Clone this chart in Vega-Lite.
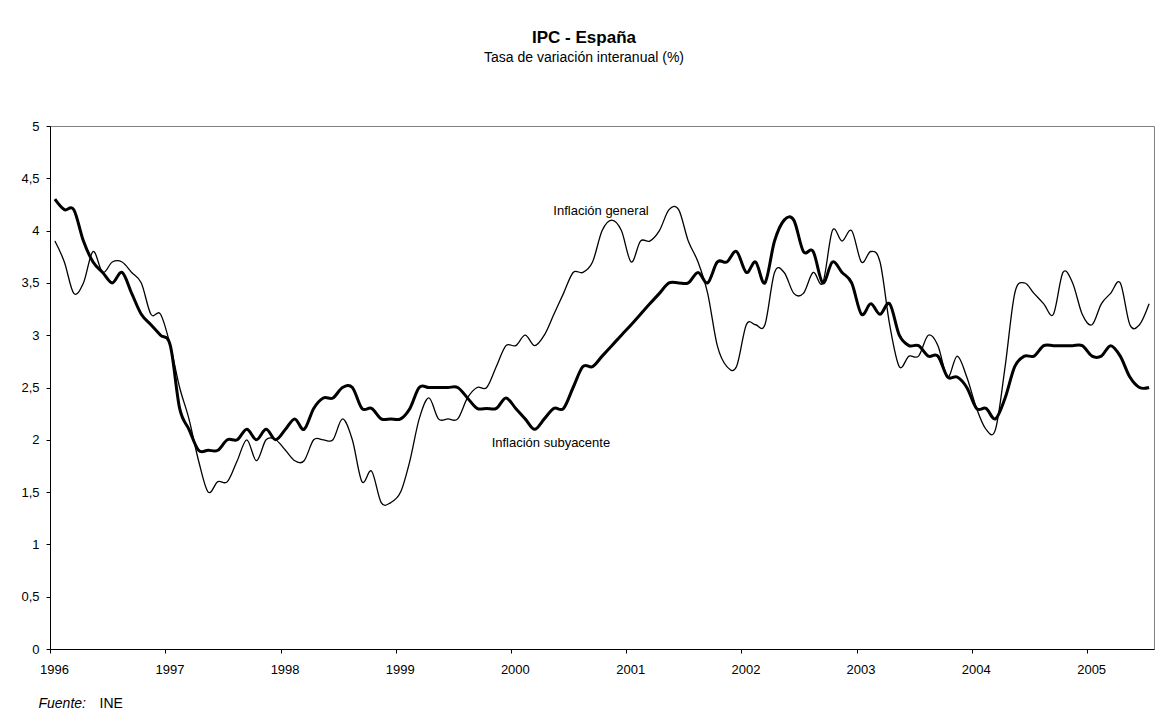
{
  "$schema": "https://vega.github.io/schema/vega-lite/v6.json",
  "autosize": "none",
  "width": 1104,
  "height": 523,
  "padding": {"left": 50, "top": 126, "right": 4, "bottom": 67},
  "background": "white",
  "title": {
    "text": "IPC - España",
    "subtitle": "Tasa de variación interanual (%)",
    "anchor": "middle",
    "dx": -18,
    "offset": 54,
    "font": "Liberation Sans",
    "fontSize": 17,
    "fontWeight": "bold",
    "color": "black",
    "subtitleFont": "Liberation Sans",
    "subtitleFontSize": 14,
    "subtitleColor": "black",
    "subtitlePadding": 4
  },
  "config": {
    "view": {"stroke": "#808080", "strokeWidth": 1},
    "axis": {
      "domainColor": "black",
      "tickColor": "black",
      "labelColor": "black",
      "labelFont": "Liberation Sans",
      "labelFontSize": 13,
      "grid": false,
      "tickSize": 4
    }
  },
  "datasets": {
    "ipc": [
      {"mes": "1996-01", "general": 3.9, "subyacente": 4.3},
      {"mes": "1996-02", "general": 3.7, "subyacente": 4.2},
      {"mes": "1996-03", "general": 3.4, "subyacente": 4.2},
      {"mes": "1996-04", "general": 3.5, "subyacente": 3.9},
      {"mes": "1996-05", "general": 3.8, "subyacente": 3.7},
      {"mes": "1996-06", "general": 3.6, "subyacente": 3.6},
      {"mes": "1996-07", "general": 3.7, "subyacente": 3.5},
      {"mes": "1996-08", "general": 3.7, "subyacente": 3.6},
      {"mes": "1996-09", "general": 3.6, "subyacente": 3.4},
      {"mes": "1996-10", "general": 3.5, "subyacente": 3.2},
      {"mes": "1996-11", "general": 3.2, "subyacente": 3.1},
      {"mes": "1996-12", "general": 3.2, "subyacente": 3.0},
      {"mes": "1997-01", "general": 2.9, "subyacente": 2.9},
      {"mes": "1997-02", "general": 2.5, "subyacente": 2.3},
      {"mes": "1997-03", "general": 2.2, "subyacente": 2.1},
      {"mes": "1997-04", "general": 1.8, "subyacente": 1.9},
      {"mes": "1997-05", "general": 1.5, "subyacente": 1.9},
      {"mes": "1997-06", "general": 1.6, "subyacente": 1.9},
      {"mes": "1997-07", "general": 1.6, "subyacente": 2.0},
      {"mes": "1997-08", "general": 1.8, "subyacente": 2.0},
      {"mes": "1997-09", "general": 2.0, "subyacente": 2.1},
      {"mes": "1997-10", "general": 1.8, "subyacente": 2.0},
      {"mes": "1997-11", "general": 2.0, "subyacente": 2.1},
      {"mes": "1997-12", "general": 2.0, "subyacente": 2.0},
      {"mes": "1998-01", "general": 1.9, "subyacente": 2.1},
      {"mes": "1998-02", "general": 1.8, "subyacente": 2.2},
      {"mes": "1998-03", "general": 1.8, "subyacente": 2.1},
      {"mes": "1998-04", "general": 2.0, "subyacente": 2.3},
      {"mes": "1998-05", "general": 2.0, "subyacente": 2.4},
      {"mes": "1998-06", "general": 2.0, "subyacente": 2.4},
      {"mes": "1998-07", "general": 2.2, "subyacente": 2.5},
      {"mes": "1998-08", "general": 2.0, "subyacente": 2.5},
      {"mes": "1998-09", "general": 1.6, "subyacente": 2.3},
      {"mes": "1998-10", "general": 1.7, "subyacente": 2.3},
      {"mes": "1998-11", "general": 1.4, "subyacente": 2.2},
      {"mes": "1998-12", "general": 1.4, "subyacente": 2.2},
      {"mes": "1999-01", "general": 1.5, "subyacente": 2.2},
      {"mes": "1999-02", "general": 1.8, "subyacente": 2.3},
      {"mes": "1999-03", "general": 2.2, "subyacente": 2.5},
      {"mes": "1999-04", "general": 2.4, "subyacente": 2.5},
      {"mes": "1999-05", "general": 2.2, "subyacente": 2.5},
      {"mes": "1999-06", "general": 2.2, "subyacente": 2.5},
      {"mes": "1999-07", "general": 2.2, "subyacente": 2.5},
      {"mes": "1999-08", "general": 2.4, "subyacente": 2.4},
      {"mes": "1999-09", "general": 2.5, "subyacente": 2.3},
      {"mes": "1999-10", "general": 2.5, "subyacente": 2.3},
      {"mes": "1999-11", "general": 2.7, "subyacente": 2.3},
      {"mes": "1999-12", "general": 2.9, "subyacente": 2.4},
      {"mes": "2000-01", "general": 2.9, "subyacente": 2.3},
      {"mes": "2000-02", "general": 3.0, "subyacente": 2.2},
      {"mes": "2000-03", "general": 2.9, "subyacente": 2.1},
      {"mes": "2000-04", "general": 3.0, "subyacente": 2.2},
      {"mes": "2000-05", "general": 3.2, "subyacente": 2.3},
      {"mes": "2000-06", "general": 3.4, "subyacente": 2.3},
      {"mes": "2000-07", "general": 3.6, "subyacente": 2.5},
      {"mes": "2000-08", "general": 3.6, "subyacente": 2.7},
      {"mes": "2000-09", "general": 3.7, "subyacente": 2.7},
      {"mes": "2000-10", "general": 4.0, "subyacente": 2.8},
      {"mes": "2000-11", "general": 4.1, "subyacente": 2.9},
      {"mes": "2000-12", "general": 4.0, "subyacente": 3.0},
      {"mes": "2001-01", "general": 3.7, "subyacente": 3.1},
      {"mes": "2001-02", "general": 3.9, "subyacente": 3.2},
      {"mes": "2001-03", "general": 3.9, "subyacente": 3.3},
      {"mes": "2001-04", "general": 4.0, "subyacente": 3.4},
      {"mes": "2001-05", "general": 4.2, "subyacente": 3.5},
      {"mes": "2001-06", "general": 4.2, "subyacente": 3.5},
      {"mes": "2001-07", "general": 3.9, "subyacente": 3.5},
      {"mes": "2001-08", "general": 3.7, "subyacente": 3.6},
      {"mes": "2001-09", "general": 3.4, "subyacente": 3.5},
      {"mes": "2001-10", "general": 2.9, "subyacente": 3.7},
      {"mes": "2001-11", "general": 2.7, "subyacente": 3.7},
      {"mes": "2001-12", "general": 2.7, "subyacente": 3.8},
      {"mes": "2002-01", "general": 3.1, "subyacente": 3.6},
      {"mes": "2002-02", "general": 3.1, "subyacente": 3.7},
      {"mes": "2002-03", "general": 3.1, "subyacente": 3.5},
      {"mes": "2002-04", "general": 3.6, "subyacente": 3.9},
      {"mes": "2002-05", "general": 3.6, "subyacente": 4.1},
      {"mes": "2002-06", "general": 3.4, "subyacente": 4.1},
      {"mes": "2002-07", "general": 3.4, "subyacente": 3.8},
      {"mes": "2002-08", "general": 3.6, "subyacente": 3.8},
      {"mes": "2002-09", "general": 3.5, "subyacente": 3.5},
      {"mes": "2002-10", "general": 4.0, "subyacente": 3.7},
      {"mes": "2002-11", "general": 3.9, "subyacente": 3.6},
      {"mes": "2002-12", "general": 4.0, "subyacente": 3.5},
      {"mes": "2003-01", "general": 3.7, "subyacente": 3.2},
      {"mes": "2003-02", "general": 3.8, "subyacente": 3.3},
      {"mes": "2003-03", "general": 3.7, "subyacente": 3.2},
      {"mes": "2003-04", "general": 3.1, "subyacente": 3.3},
      {"mes": "2003-05", "general": 2.7, "subyacente": 3.0},
      {"mes": "2003-06", "general": 2.8, "subyacente": 2.9},
      {"mes": "2003-07", "general": 2.8, "subyacente": 2.9},
      {"mes": "2003-08", "general": 3.0, "subyacente": 2.8},
      {"mes": "2003-09", "general": 2.9, "subyacente": 2.8},
      {"mes": "2003-10", "general": 2.6, "subyacente": 2.6},
      {"mes": "2003-11", "general": 2.8, "subyacente": 2.6},
      {"mes": "2003-12", "general": 2.6, "subyacente": 2.5},
      {"mes": "2004-01", "general": 2.3, "subyacente": 2.3},
      {"mes": "2004-02", "general": 2.1, "subyacente": 2.3},
      {"mes": "2004-03", "general": 2.1, "subyacente": 2.2},
      {"mes": "2004-04", "general": 2.7, "subyacente": 2.4},
      {"mes": "2004-05", "general": 3.4, "subyacente": 2.7},
      {"mes": "2004-06", "general": 3.5, "subyacente": 2.8},
      {"mes": "2004-07", "general": 3.4, "subyacente": 2.8},
      {"mes": "2004-08", "general": 3.3, "subyacente": 2.9},
      {"mes": "2004-09", "general": 3.2, "subyacente": 2.9},
      {"mes": "2004-10", "general": 3.6, "subyacente": 2.9},
      {"mes": "2004-11", "general": 3.5, "subyacente": 2.9},
      {"mes": "2004-12", "general": 3.2, "subyacente": 2.9},
      {"mes": "2005-01", "general": 3.1, "subyacente": 2.8},
      {"mes": "2005-02", "general": 3.3, "subyacente": 2.8},
      {"mes": "2005-03", "general": 3.4, "subyacente": 2.9},
      {"mes": "2005-04", "general": 3.5, "subyacente": 2.8},
      {"mes": "2005-05", "general": 3.1, "subyacente": 2.6},
      {"mes": "2005-06", "general": 3.1, "subyacente": 2.5},
      {"mes": "2005-07", "general": 3.3, "subyacente": 2.5}
    ],
    "etiquetas": [
      {"texto": "Inflación general", "fecha": "2000-10-13", "valor": 4.19},
      {"texto": "Inflación subyacente", "fecha": "2000-05-07", "valor": 1.97}
    ]
  },
  "layer": [
    {
      "data": {"name": "ipc"},
      "mark": {"type": "line", "interpolate": "cardinal", "color": "black", "strokeWidth": 1.3},
      "encoding": {
        "x": {
          "field": "mes",
          "timeUnit": "utcyearmonth",
          "type": "temporal",
          "bandPosition": 0.5,
          "scale": {"domain": [{"year": 1996, "month": 1, "date": 1, "utc": true}, {"year": 2005, "month": 8, "date": 1, "utc": true}]},
          "axis": {
            "values": [
              {"year": 1996, "month": 1, "date": 1, "utc": true},
              {"year": 1997, "month": 1, "date": 1, "utc": true},
              {"year": 1998, "month": 1, "date": 1, "utc": true},
              {"year": 1999, "month": 1, "date": 1, "utc": true},
              {"year": 2000, "month": 1, "date": 1, "utc": true},
              {"year": 2001, "month": 1, "date": 1, "utc": true},
              {"year": 2002, "month": 1, "date": 1, "utc": true},
              {"year": 2003, "month": 1, "date": 1, "utc": true},
              {"year": 2004, "month": 1, "date": 1, "utc": true},
              {"year": 2005, "month": 1, "date": 1, "utc": true}
            ],
            "labelExpr": "utcFormat(datum.value, '%Y')",
            "labelFlush": false,
            "labelOverlap": false,
            "labelOffset": 4,
            "labelPadding": 10,
            "title": "INE",
            "titleFont": "Liberation Sans",
            "titleFontSize": 14,
            "titleFontWeight": "normal",
            "titleColor": "black",
            "titleAnchor": "start",
            "titleAlign": "left",
            "titleBaseline": "alphabetic",
            "titleX": 49,
            "titleY": 58
          }
        },
        "y": {
          "field": "general",
          "type": "quantitative",
          "scale": {"domain": [0, 5]},
          "axis": {
            "values": [0, 0.5, 1, 1.5, 2, 2.5, 3, 3.5, 4, 4.5, 5],
            "format": ".1~f",
            "labelExpr": "replace(datum.label, '.', ',')",
            "labelPadding": 7,
            "title": "Fuente:",
            "titleFont": "Liberation Sans",
            "titleFontSize": 14,
            "titleFontWeight": "normal",
            "titleFontStyle": "italic",
            "titleColor": "black",
            "titleAngle": 0,
            "titleAlign": "left",
            "titleBaseline": "alphabetic",
            "titleX": -12,
            "titleY": 581
          }
        }
      }
    },
    {
      "data": {"name": "ipc"},
      "mark": {"type": "line", "interpolate": "cardinal", "color": "black", "strokeWidth": 3},
      "encoding": {
        "x": {"field": "mes", "timeUnit": "utcyearmonth", "type": "temporal", "bandPosition": 0.5},
        "y": {"field": "subyacente", "type": "quantitative"}
      }
    },
    {
      "data": {"name": "etiquetas"},
      "mark": {"type": "text", "font": "Liberation Sans", "fontSize": 13, "color": "black", "align": "center", "baseline": "middle"},
      "encoding": {
        "x": {"field": "fecha", "timeUnit": "utcyearmonthdate", "type": "temporal"},
        "y": {"field": "valor", "type": "quantitative"},
        "text": {"field": "texto"}
      }
    }
  ]
}
